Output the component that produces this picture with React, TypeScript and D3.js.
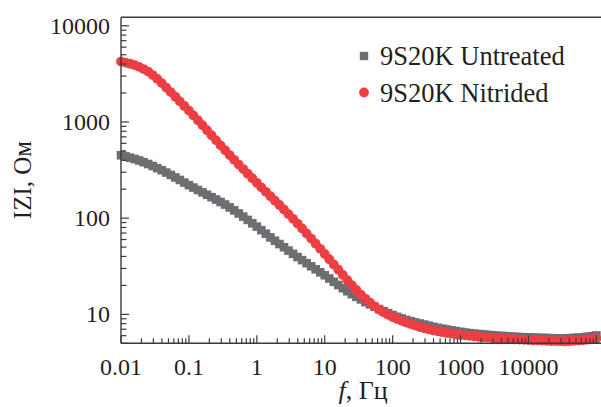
import React from "react";
import * as d3 from "d3";

// frequencies, Hz (15 points per decade)
const freqs = [
  0.01, 0.01166, 0.01359, 0.01585, 0.01848, 0.02154, 0.02512, 0.02929, 0.03415, 0.03981, 0.04642, 0.05412, 0.0631, 0.07356, 0.08577,
  0.1, 0.1166, 0.1359, 0.1585, 0.1848, 0.2154, 0.2512, 0.2929, 0.3415, 0.3981, 0.4642, 0.5412, 0.631, 0.7356, 0.8577,
  1, 1.166, 1.359, 1.585, 1.848, 2.154, 2.512, 2.929, 3.415, 3.981, 4.642, 5.412, 6.31, 7.356, 8.577,
  10, 11.66, 13.59, 15.85, 18.48, 21.54, 25.12, 29.29, 34.15, 39.81, 46.42, 54.12, 63.1, 73.56, 85.77,
  100, 116.6, 135.9, 158.5, 184.8, 215.4, 251.2, 292.9, 341.5, 398.1, 464.2, 541.2, 631, 735.6, 857.7,
  1000, 1166, 1359, 1585, 1848, 2154, 2512, 2929, 3415, 3981, 4642, 5412, 6310, 7356, 8577,
  10000, 11660, 13590, 15850, 18480, 21540, 25120, 29290, 34150, 39810, 46420, 54120, 63100, 73560, 85770,
  100000,
];

// |Z|, Ohm — 9S20K untreated
const untreated = [
  450.8, 438.5, 425.6, 412.1, 398.1, 381.9, 365.6, 348.3, 331.1, 314.8, 297.8, 281.2, 264.9, 249.5, 234.4,
  220.3, 208.0, 196.3, 185.4, 175.0, 165.2, 156.0, 147.2, 138.4, 129.4, 120.5, 111.9, 103.8, 95.9, 88.5,
  81.7, 75.0, 68.9, 63.1, 58.2, 53.8, 49.8, 46.0, 42.6, 39.4, 36.6, 34.0, 31.6, 29.4, 27.4,
  25.5, 23.6, 21.8, 20.2, 18.7, 17.4, 16.2, 15.2, 14.3, 13.4, 12.7, 12.0, 11.35, 10.8, 10.3,
  9.82, 9.42, 9.06, 8.75, 8.49, 8.24, 8.02, 7.82, 7.62, 7.41, 7.24, 7.1, 6.95, 6.82, 6.7,
  6.58, 6.47, 6.38, 6.31, 6.24, 6.18, 6.12, 6.07, 6.01, 5.97, 5.93, 5.89, 5.85, 5.81, 5.78,
  5.75, 5.74, 5.71, 5.69, 5.68, 5.65, 5.64, 5.62, 5.64, 5.65, 5.69, 5.73, 5.78, 5.85, 5.93,
  6.03,
];

// |Z|, Ohm — 9S20K nitrided
const nitrided = [
  4246, 4140, 4027, 3908, 3741, 3548, 3342, 3076, 2805, 2535, 2275, 2042, 1828, 1637, 1466,
  1312, 1169, 1040, 925, 820, 728, 644, 571, 508, 453, 404, 361, 324, 290, 260,
  233, 209, 188, 169, 152, 137, 123, 110, 98.4, 87.9, 78.2, 69.3, 61.4, 54.3, 48.0,
  42.4, 37.4, 33.0, 29.1, 25.7, 22.7, 20.1, 17.9, 16.0, 14.5, 13.2, 12.1, 11.2, 10.5, 9.91,
  9.38, 8.95, 8.57, 8.2, 7.91, 7.64, 7.38, 7.16, 6.97, 6.79, 6.65, 6.52, 6.4, 6.3, 6.19,
  6.11, 6.04, 5.97, 5.9, 5.83, 5.78, 5.73, 5.68, 5.62, 5.58, 5.55, 5.52, 5.48, 5.46, 5.43,
  5.41, 5.38, 5.36, 5.33, 5.31, 5.28, 5.27, 5.26, 5.25, 5.26, 5.3, 5.33, 5.38, 5.45, 5.52,
  5.6,
];

const xTickLabels = ["0.01", "0.1", "1", "10", "100", "1000", "10000"];
const yTickLabels = ["10", "100", "1000", "10000"];
const seriesNames = ["9S20K Untreated", "9S20K Nitrided"];

const GRAY = "#6d6e72";
const RED = "#ed3e43";
const AXIS = "#3a3a3a";
const INK = "#231f20";
const FONT = "Liberation Serif";

function logTicks(lo: number, hi: number) {
  const out: { v: number; major: boolean }[] = [];
  for (let e = Math.floor(Math.log10(lo)); e <= Math.ceil(Math.log10(hi)); e++) {
    for (let m = 1; m <= 9; m++) {
      const v = m * Math.pow(10, e);
      if (v >= lo * 0.999 && v <= hi) out.push({ v, major: m === 1 });
    }
  }
  return out;
}

export default function App() {
  const W = 601;
  const H = 407;
  const left = 121;
  const right = 601;
  const top = 17.3;
  const bottom = 343.3;

  const x = d3.scaleLog().domain([0.01, 117000]).range([left, right]);
  const y = d3.scaleLog().domain([5, 12250]).range([bottom, top]);

  const xt = logTicks(0.01, 117000);
  const yt = logTicks(5, 12250);

  const txt = { fontFamily: FONT, fill: INK } as React.CSSProperties;

  return (
    <svg width={W} height={H} style={{ position: "absolute", left: 0, top: 0, background: "#fff" }}>
      {/* data */}
      <g>
        {freqs.map((f, i) => (
          <rect
            key={"u" + i}
            x={x(f) - 4.3}
            y={y(untreated[i]) - 4.3}
            width={8.6}
            height={8.6}
            fill={GRAY}
          />
        ))}
        {freqs.map((f, i) => (
          <circle key={"n" + i} cx={x(f)} cy={y(nitrided[i])} r={4.9} fill={RED} />
        ))}
      </g>

      {/* frame */}
      <line x1={left} x2={right} y1={top} y2={top} stroke={AXIS} strokeWidth={1.4} />
      <line x1={left} x2={right} y1={bottom} y2={bottom} stroke={AXIS} strokeWidth={1.4} />
      <line x1={left} x2={left} y1={top} y2={bottom} stroke={AXIS} strokeWidth={1.4} />

      {/* x ticks */}
      {xt.map((t, i) => (
        <line
          key={"xt" + i}
          x1={x(t.v)}
          x2={x(t.v)}
          y1={bottom}
          y2={bottom - (t.major ? 8 : 5)}
          stroke={AXIS}
          strokeWidth={1.2}
        />
      ))}
      {xTickLabels.map((t) => (
        <text key={"xl" + t} x={x(+t)} y={375} textAnchor="middle" fontSize={24} style={txt}>
          {t}
        </text>
      ))}

      {/* y ticks */}
      {yt.map((t, i) => (
        <line
          key={"yt" + i}
          x1={left}
          x2={left + (t.major ? 8 : 5.5)}
          y1={y(t.v)}
          y2={y(t.v)}
          stroke={AXIS}
          strokeWidth={1.2}
        />
      ))}
      {yTickLabels.map((t) => (
        <text key={"yl" + t} x={110} y={y(+t)} dy="0.33em" textAnchor="end" fontSize={24} style={txt}>
          {t}
        </text>
      ))}

      {/* axis titles */}
      <text x={363} y={399} textAnchor="middle" fontSize={26} style={txt}>
        <tspan fontStyle="italic">f</tspan>, Гц
      </text>
      <text transform="translate(31,180) rotate(-90)" textAnchor="middle" fontSize={25} style={txt}>
        IZI, Ом
      </text>

      {/* legend */}
      <rect x={359.8} y={51.8} width={8.4} height={8.4} fill={GRAY} />
      <text x={380} y={65} fontSize={26.5} style={txt}>
        {seriesNames[0]}
      </text>
      <circle cx={364} cy={92.5} r={4.9} fill={RED} />
      <text x={380} y={101.5} fontSize={26.5} style={txt}>
        {seriesNames[1]}
      </text>
    </svg>
  );
}
